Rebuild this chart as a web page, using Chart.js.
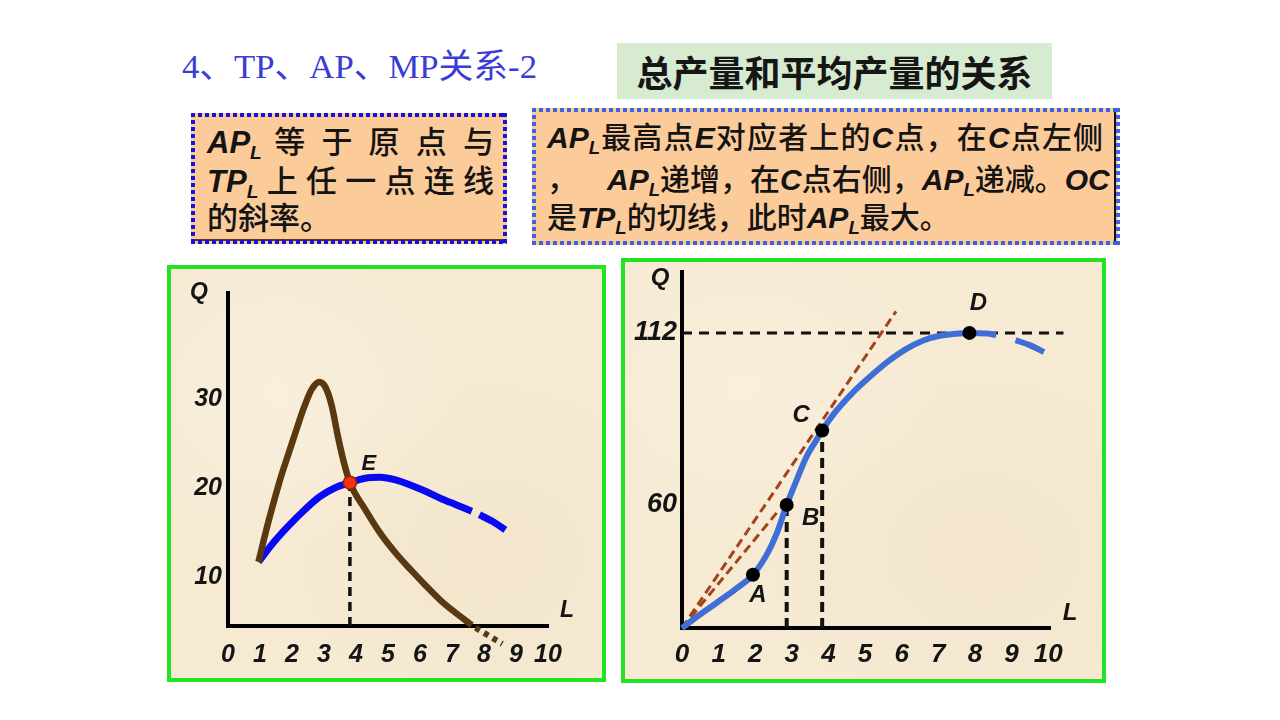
<!DOCTYPE html>
<html><head><meta charset="utf-8">
<script src="https://cdn.jsdelivr.net/npm/chart.js@4.4.1/dist/chart.umd.min.js"></script>
<style>
html,body{margin:0;padding:0;background:#fff;}
body{width:1280px;height:720px;position:relative;overflow:hidden;font-family:"Liberation Sans","Noto Sans CJK SC",sans-serif;}
.abs{position:absolute;}
#title{left:182px;top:47px;font-family:"Liberation Serif","Noto Sans CJK SC",serif;font-size:34px;line-height:40px;color:#3b3bd6;white-space:nowrap;transform-origin:0 50%;}
#head2{left:617px;top:43px;width:435px;height:56px;background:#d6ebcf;font-family:"Noto Sans CJK SC",sans-serif;font-weight:bold;font-size:36px;line-height:56px;text-align:center;color:#161616;}
.tbox{background:#fccb9a;}
.dh{position:absolute;height:4px;}
.dv{position:absolute;width:4px;}
.line{position:absolute;height:38px;line-height:38px;white-space:nowrap;font-family:"Liberation Sans","Noto Sans CJK SC",sans-serif;font-size:30px;color:#141414;font-weight:500;}
.big{font-size:31px;}
.just{text-align:justify;text-align-last:justify;}
.lt{font-family:"Liberation Sans",sans-serif;font-weight:bold;font-style:italic;}
.lt sub{font-size:0.62em;vertical-align:-0.32em;line-height:0;}
.panel{background:#f6ead3;
 background-image:radial-gradient(ellipse at 25% 30%, rgba(252,244,228,0.45), rgba(252,244,228,0) 40%),
 radial-gradient(ellipse at 75% 70%, rgba(238,224,196,0.45), rgba(238,224,196,0) 45%);
 border:4px solid #22e222;box-sizing:border-box;}
canvas{position:absolute;}
</style></head>
<body>
<div id="title" class="abs">4、TP、AP、MP关系-2</div>
<div id="head2" class="abs">总产量和平均产量的关系</div>

<!-- left text box -->
<div class="abs tbox" style="left:191px;top:113px;width:316px;height:131px;"></div>
<div class="abs" style="left:195px;top:239px;width:308px;height:2px;background:#5a3a1c;"></div>
<div class="dh" style="left:191px;top:113px;width:316px;background:repeating-linear-gradient(90deg,#1414dc 0 4px,transparent 4px 7px);"></div>
<div class="dh" style="left:191px;top:240px;width:316px;background:repeating-linear-gradient(90deg,#1414dc 0 4px,transparent 4px 7px);"></div>
<div class="dv" style="left:191px;top:113px;height:131px;background:repeating-linear-gradient(180deg,#1414dc 0 4px,transparent 4px 7px);"></div>
<div class="dv" style="left:503px;top:113px;height:131px;background:repeating-linear-gradient(180deg,#1414dc 0 4px,transparent 4px 7px);"></div>
<div class="line big just" style="left:207px;top:124px;width:287px;"><span class="lt">AP<sub>L</sub></span> 等 于 原 点 与</div>
<div class="line big just" style="left:207px;top:163px;width:287px;"><span class="lt">TP<sub>L</sub></span>上任一点连线</div>
<div class="line big" style="left:207px;top:200px;width:287px;">的斜率。</div>

<!-- right text box -->
<div class="abs tbox" style="left:532px;top:108px;width:586px;height:137px;"></div>
<div class="abs" style="left:1114px;top:111px;width:2px;height:132px;background:#111;"></div>
<div class="dh" style="left:532px;top:108px;width:586px;background:repeating-linear-gradient(90deg,#3b62e2 0 4px,transparent 4px 7px);"></div>
<div class="dh" style="left:532px;top:241px;width:586px;background:repeating-linear-gradient(90deg,#3b62e2 0 4px,transparent 4px 7px);"></div>
<div class="dv" style="left:532px;top:108px;height:137px;background:repeating-linear-gradient(180deg,#3b62e2 0 4px,transparent 4px 7px);"></div>
<div class="dv" style="left:1116px;top:108px;height:137px;background:repeating-linear-gradient(180deg,#3b62e2 0 4px,transparent 4px 7px);"></div>
<div class="line just" style="left:547px;top:119px;width:556px;"><span class="lt">AP<sub>L</sub></span>最高点<span class="lt">E</span>对应者上的<span class="lt">C</span>点，在<span class="lt">C</span>点左侧</div>
<div class="line just" style="left:547px;top:161px;width:556px;">，&ensp;&ensp;<span class="lt">AP<sub>L</sub></span>递增，在<span class="lt">C</span>点右侧，<span class="lt">AP<sub>L</sub></span>递减。<span class="lt">OC</span></div>
<div class="line" style="left:547px;top:199px;width:556px;">是<span class="lt">TP<sub>L</sub></span>的切线，此时<span class="lt">AP<sub>L</sub></span>最大。</div>

<!-- chart panels -->
<div class="abs panel" style="left:167px;top:265px;width:439px;height:417px;"></div>
<div class="abs panel" style="left:621px;top:258px;width:485px;height:425px;"></div>
<canvas id="cL" width="437" height="414" style="left:168px;top:266px;"></canvas>
<canvas id="cR" width="482" height="422" style="left:622px;top:259px;"></canvas>

<script>
// ================= DATA =================
const xTickLabels = [0,1,2,3,4,5,6,7,8,9,10];
const leftYTicks  = [10,20,30];
const rightYTicks = [60,112];

// Left chart: MP (brown) and AP (blue)
const mpL = [1,1.25,1.5,1.75,2,2.25,2.5,2.75,3,3.2,3.4,3.6,3.8,4,4.5,5,5.5,6,6.5,7,7.5,8];
const mpQ = [11.7,15.2,18.4,21.4,24.0,26.6,29.1,31.1,31.9,31.3,29.3,25.9,22.9,20.6,17.6,14.9,12.7,10.8,9.0,7.3,5.9,4.6];
const mpTailL = [8.12,9.0];
const mpTailQ = [4.3,2.5];
const apL = [1,1.5,2,2.5,3,3.5,4,4.5,5,5.5,6,6.5,7,7.5,8];
const apQ = [11.7,13.9,15.8,17.5,19.0,20.0,20.6,21.1,21.2,20.9,20.3,19.6,18.8,18.1,17.4];
const apTailL = [8.25,8.7,9.1];
const apTailQ = [17.0,16.2,15.3];
const leftPtNames = ['E'];
const leftPtL = [4];
const leftPtQ = [20.6];

// Right chart: TP (blue)
const tpL = [0,0.5,1,1.5,2,2.4,2.67,2.95,3.23,3.51,3.8,3.95,4.3,4.8,5.3,5.8,6.3,6.8,7.3,8.1,8.6,8.85];
const tpQ = [22.8,26.8,30.6,34.5,38.9,45.2,51.4,60,67.5,74.6,79.8,82.5,87.8,93.8,98.8,103.3,107,109.7,111.2,112,111.8,111.3];
const tpTailL = [9.4,9.8,10.2];
const tpTailQ = [109.8,108.3,106.2];
const rightPtNames = ['A','B','C','D'];
const rightPtL = [2,2.95,3.95,8.1];
const rightPtQ = [38.9,60,82.5,112];
const ocL = [0,6.03];   // tangent OC (extended)
const ocQ = [22.8,118.5];
const obL = [0,2.72];   // ray OB
const obQ = [22.8,58.3];
const maxLineL = [0,10.75]; // Q = 112 guide
const maxLineQ = [112,112];

// ================= HELPERS =================
const zip = (xs, ys) => xs.map((x,i)=>({x, y: ys[i]}));
const tickFont = s => ({family:'"Liberation Sans", Arial, sans-serif', size:s, weight:'bold', style:'italic'});

const annotPlugin = {
  id:'annot',
  afterDatasetsDraw(chart, args, opts){
    const {ctx, scales:{x, y}} = chart;
    ctx.save();
    ctx.textAlign = 'center'; ctx.textBaseline = 'middle'; ctx.fillStyle = '#141414';
    for (const a of opts.items){
      ctx.font = 'italic bold ' + a.size + 'px "Liberation Sans", Arial, sans-serif';
      ctx.fillText(a.text, x.getPixelForValue(a.x) + a.dx, y.getPixelForValue(a.y) + a.dy);
    }
    ctx.restore();
  }
};

function baseScales(o){
  return {
    x: {type:'linear', display:false, min:o.xMin, max:o.xMax},
    xl: {type:'linear', position:'bottom', weight:1, min:0, max:o.xlMax,
      grid:{display:false, drawTicks:false},
      border:{display:true, color:'#000', width:4},
      ticks:{autoSkip:false, maxRotation:0, padding:o.xPad, color:'#141414', font:tickFont(o.xFont)},
      afterBuildTicks: s => { s.ticks = xTickLabels.map(v=>({value:v})); },
      afterFit: s => { s.height = o.xlH; s.paddingLeft = 0; s.paddingRight = 0; }
    },
    y: {type:'linear', position:'left', min:o.yMin, max:o.yMax,
      grid:{display:false, drawTicks:false},
      border:{display:true, color:'#000', width:4},
      ticks:{autoSkip:false, padding:o.yPad, color:'#141414', font:tickFont(o.yFont)},
      afterBuildTicks: s => { s.ticks = o.yTicks.map(v=>({value:v})); },
      afterFit: s => { s.width = o.yW; s.paddingTop = 0; s.paddingBottom = 0; }
    }
  };
}

function line(data, color, width, extra){
  return Object.assign({data, borderColor:color, borderWidth:width, pointRadius:0,
    fill:false, tension:0, clip:false, borderCapStyle:'butt'}, extra||{});
}

// ================= LEFT CHART =================
new Chart(document.getElementById('cL'), {
  type:'line',
  data:{datasets:[
    Object.assign(line(zip(leftPtL,leftPtQ),'#8a1a00',1.5,{showLine:false, pointRadius:6.5, pointBackgroundColor:'#f2320f', pointBorderColor:'#9a1e05', pointBorderWidth:1.5}),{order:0}),
    Object.assign(line(zip(mpL,mpQ),'#5a3810',6.5,{cubicInterpolationMode:'monotone'}),{order:1}),
    Object.assign(line(zip(mpTailL,mpTailQ),'#5a3810',6,{borderDash:[5,5]}),{order:1}),
    Object.assign(line(zip(apL,apQ),'#0a0af2',7,{cubicInterpolationMode:'monotone'}),{order:2}),
    Object.assign(line(zip(apTailL,apTailQ),'#0a0af2',7,{cubicInterpolationMode:'monotone'}),{order:2}),
    Object.assign(line([{x:leftPtL[0],y:4.5},{x:leftPtL[0],y:leftPtQ[0]}],'#111',3.5,{borderDash:[9,6]}),{order:3})
  ]},
  options:{
    responsive:false, animation:false, devicePixelRatio:1,
    layout:{padding:{left:0, top:27, right:57, bottom:0}},
    plugins:{legend:{display:false}, tooltip:{enabled:false},
      annot:{items:[
        {text:'Q', x:0, y:41.9, dx:-29, dy:0, size:23},
        {text:'L', x:10.5, y:4.5, dx:19, dy:-15, size:23},
        {text:leftPtNames[0], x:leftPtL[0], y:leftPtQ[0], dx:19, dy:-19, size:22}
      ]}},
    scales: baseScales({xMin:0, xMax:10.5, xlMax:10.0, xPad:14, xFont:25, xlH:54,
      yMin:4.5, yMax:41.9, yTicks:leftYTicks, yPad:6, yFont:25, yW:60})
  },
  plugins:[annotPlugin]
});

// ================= RIGHT CHART =================
new Chart(document.getElementById('cR'), {
  type:'line',
  data:{datasets:[
    Object.assign(line(zip(rightPtL,rightPtQ),'#000',0,{showLine:false, pointRadius:7, pointBackgroundColor:'#000', pointBorderWidth:0}),{order:0}),
    Object.assign(line(zip(tpL,tpQ),'#3f6fd6',6,{cubicInterpolationMode:'monotone'}),{order:1}),
    Object.assign(line(zip(tpTailL,tpTailQ),'#3f6fd6',6,{cubicInterpolationMode:'monotone'}),{order:1}),
    Object.assign(line(zip(ocL,ocQ),'#a3431c',3,{borderDash:[9,5]}),{order:2}),
    Object.assign(line(zip(obL,obQ),'#a3431c',3,{borderDash:[9,5]}),{order:2}),
    Object.assign(line([{x:rightPtL[1],y:22.8},{x:rightPtL[1],y:rightPtQ[1]}],'#111',4,{borderDash:[10,6]}),{order:3}),
    Object.assign(line([{x:rightPtL[2],y:22.8},{x:rightPtL[2],y:rightPtQ[2]}],'#111',4,{borderDash:[10,6]}),{order:3}),
    Object.assign(line(zip(maxLineL,maxLineQ),'#111',3,{borderDash:[10,7]}),{order:4})
  ]},
  options:{
    responsive:false, animation:false, devicePixelRatio:1,
    layout:{padding:{left:0, top:13, right:54, bottom:0}},
    plugins:{legend:{display:false}, tooltip:{enabled:false},
      annot:{items:[
        {text:'Q', x:0, y:130.4, dx:-22, dy:6, size:24},
        {text:'L', x:10.37, y:22.8, dx:20, dy:-15, size:24},
        {text:rightPtNames[0], x:rightPtL[0], y:rightPtQ[0], dx:5, dy:21, size:24},
        {text:rightPtNames[1], x:rightPtL[1], y:rightPtQ[1], dx:24, dy:13, size:24},
        {text:rightPtNames[2], x:rightPtL[2], y:rightPtQ[2], dx:-21, dy:-15, size:24},
        {text:rightPtNames[3], x:rightPtL[3], y:rightPtQ[3], dx:9, dy:-30, size:24}
      ]}},
    scales: baseScales({xMin:0, xMax:10.37, xlMax:10.05, xPad:11, xFont:26, xlH:53,
      yMin:22.8, yMax:130.4, yTicks:rightYTicks, yPad:5, yFont:27, yW:60})
  },
  plugins:[annotPlugin]
});

// fit title width to reference
document.fonts && document.fonts.ready.then(()=>{
  const t = document.getElementById('title');
  const w = t.getBoundingClientRect().width;
  if (w > 0) t.style.transform = 'scaleX(' + (355 / w) + ')';
});
</script>
</body></html>
